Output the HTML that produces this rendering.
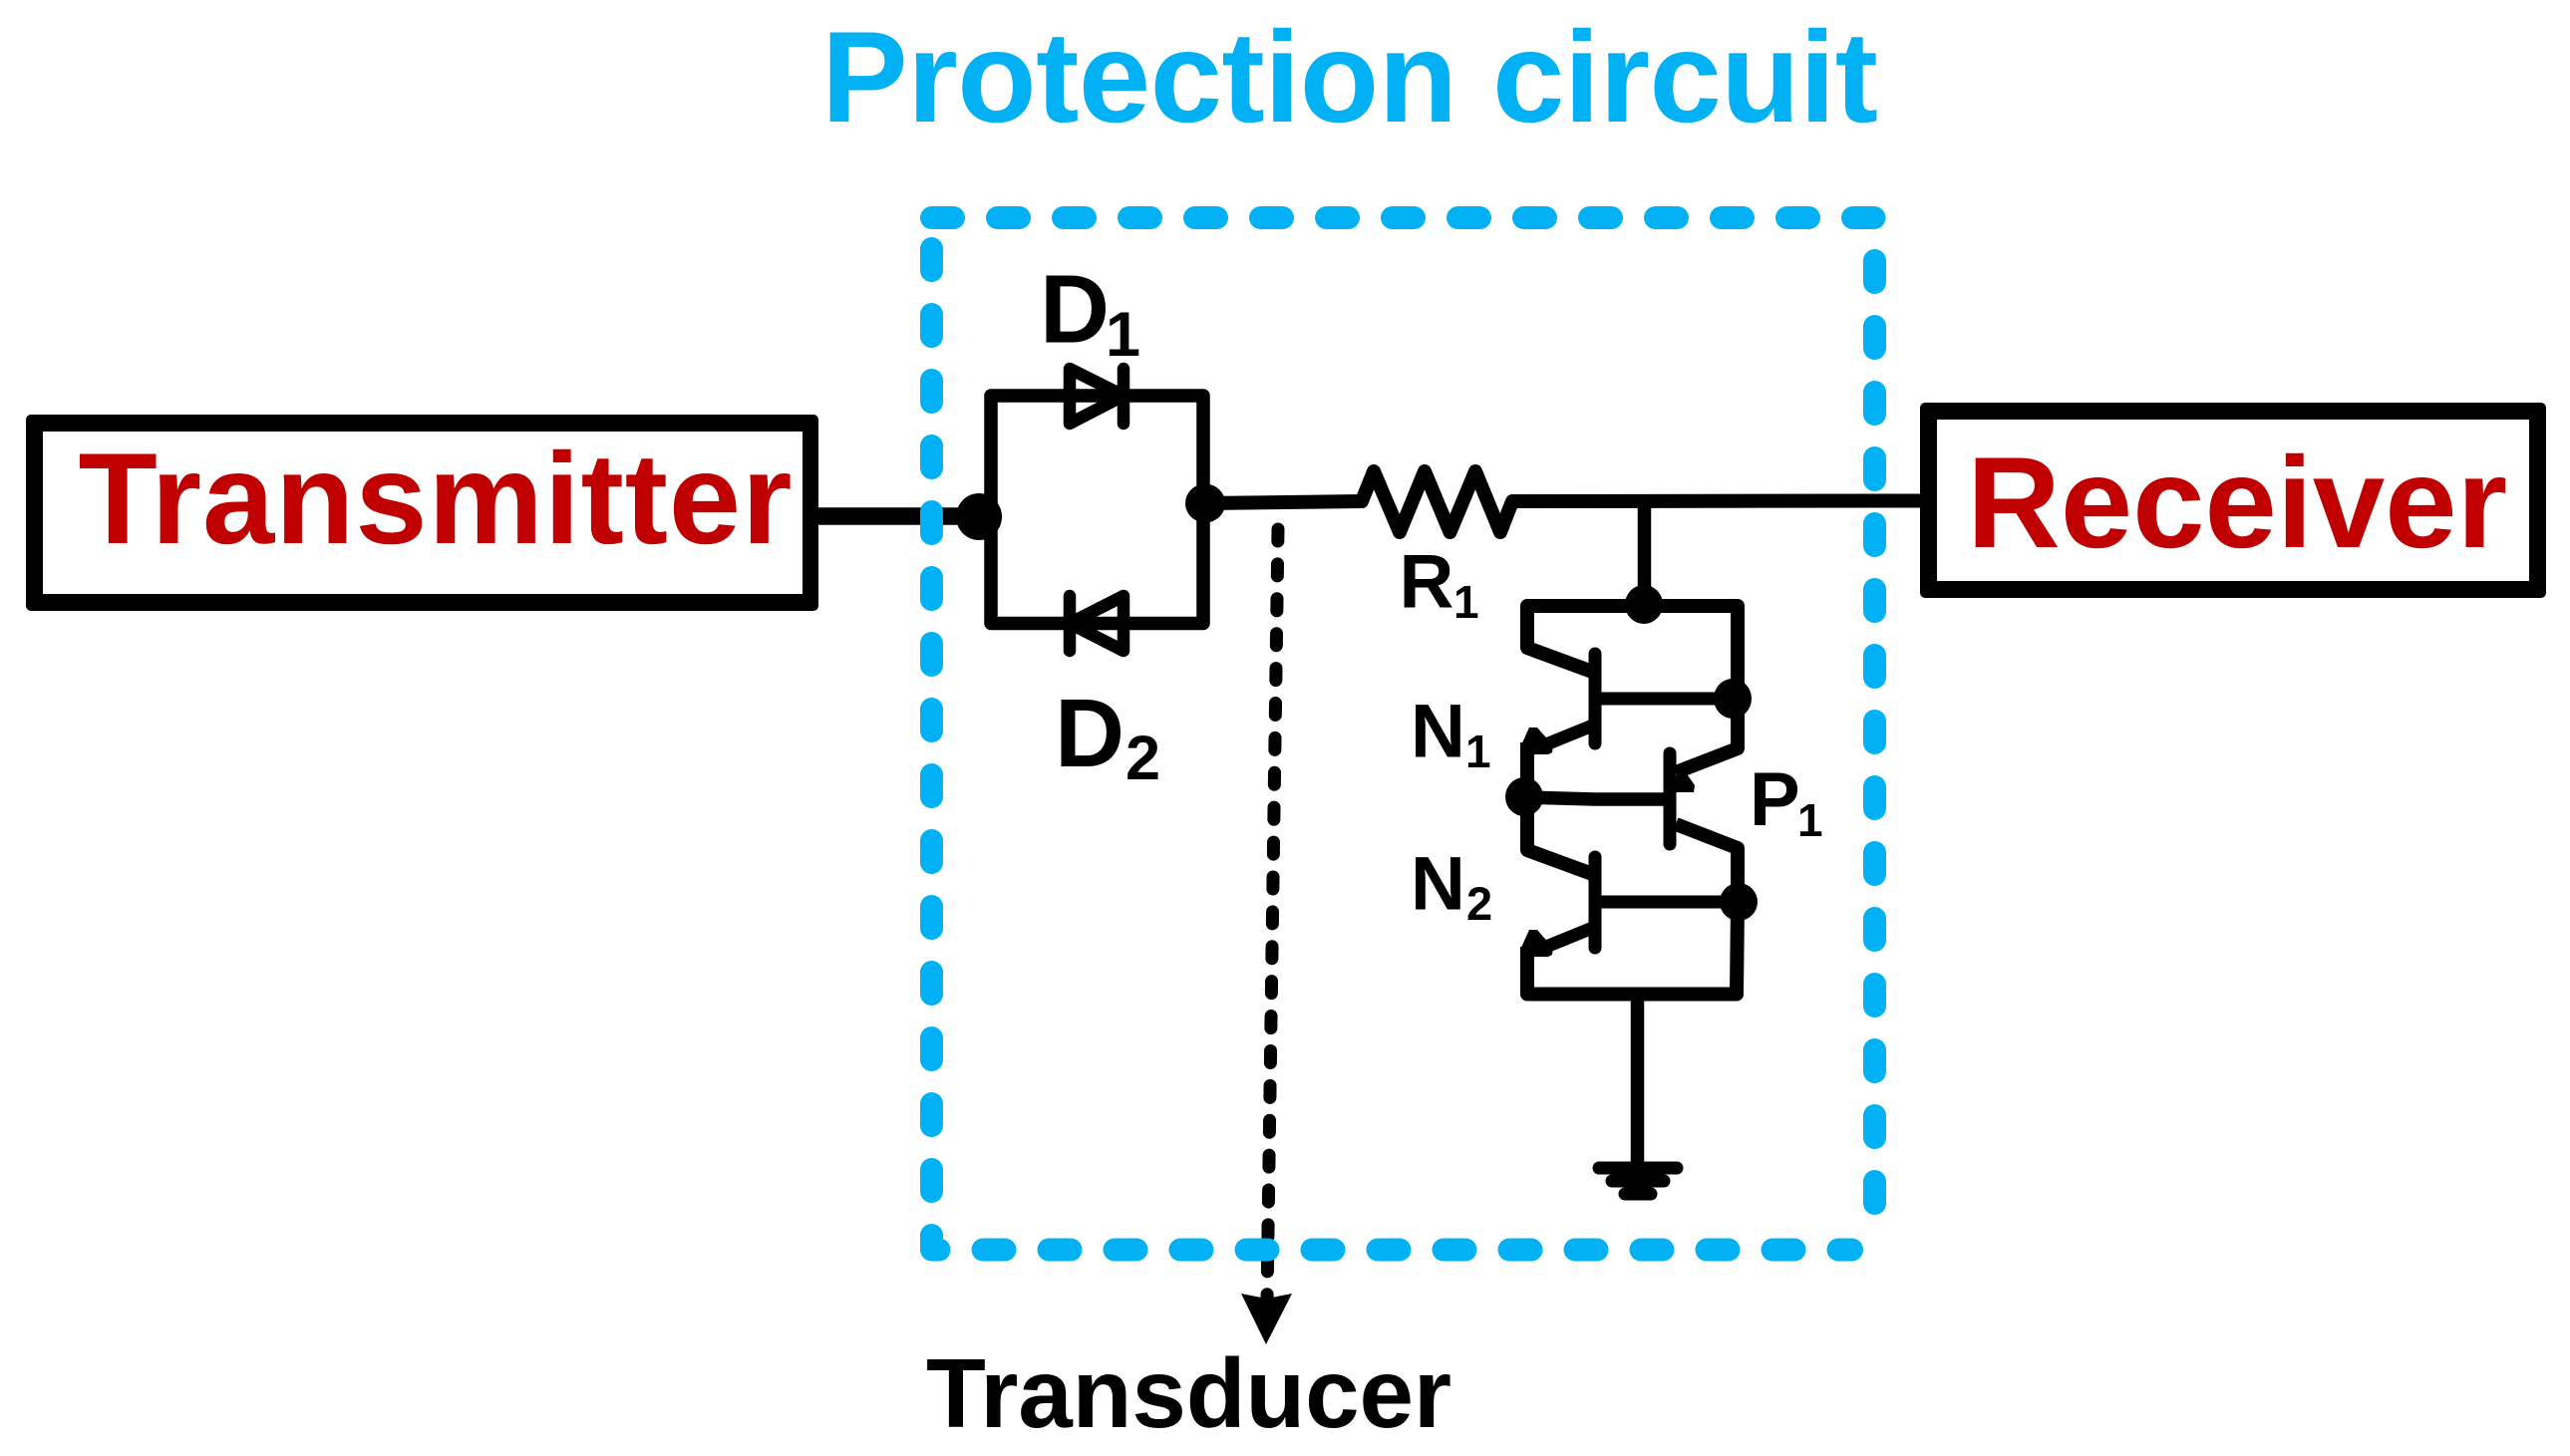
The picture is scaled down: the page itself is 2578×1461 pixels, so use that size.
<!DOCTYPE html>
<html>
<head>
<meta charset="utf-8">
<style>
html,body{margin:0;padding:0;background:#fff;width:2578px;height:1461px;overflow:hidden}
svg{display:block}
text{font-family:"Liberation Sans",Arial,sans-serif;font-weight:bold}
</style>
</head>
<body>
<svg width="2578" height="1461" viewBox="0 0 2578 1461" xmlns="http://www.w3.org/2000/svg">
<rect width="2578" height="1461" fill="#fff"/>

<!-- Title -->
<text x="824" y="122" font-size="130" fill="#02b1f3" textLength="1060" lengthAdjust="spacing">Protection circuit</text>

<!-- Transmitter box -->
<rect x="26" y="416" width="795" height="197" rx="5" fill="#000"/>
<rect x="43" y="433" width="762" height="163" fill="#fff"/>
<text x="78.5" y="545" font-size="130" fill="#c00000" textLength="716" lengthAdjust="spacing">Transmitter</text>

<!-- Receiver box -->
<rect x="1926" y="404" width="628" height="196" rx="5" fill="#000"/>
<rect x="1943" y="421" width="594" height="162" fill="#fff"/>
<text x="1973" y="549" font-size="130" fill="#c00000">Receiver</text>

<!-- Wires -->
<g fill="none" stroke="#000" stroke-linejoin="round" stroke-linecap="butt">
  <line x1="821" y1="518" x2="982" y2="518" stroke-width="17.5"/>
  <!-- diode loop -->
  <path d="M994 518 V397 H1207 V625.5 H994 Z" stroke-width="13.5"/>
  <!-- main line + resistor -->
  <path d="M1209 505 L1366 503 L1378 473 L1404 534 L1429 473 L1454.5 534 L1480 473 L1505 534 L1517 503 L1926 502.5" stroke-width="14"/>
  <line x1="1649.5" y1="503" x2="1649.5" y2="606" stroke-width="13.5"/>
  <!-- upper rail, N1 collector, P1 emitter -->
  <path d="M1600 675 L1532 650 V608 H1743 V751 L1681 775" stroke-width="14"/>
  <!-- N1 base -->
  <line x1="1600" y1="701" x2="1738" y2="701" stroke-width="13"/>
  <!-- N1 emitter -->
  <path d="M1600 727 L1546 749" stroke-width="13"/>
  <!-- left vertical -->
  <path d="M1532 745 V853 L1600 878" stroke-width="14"/>
  <!-- mid line -->
  <path d="M1529 800 L1600 802 L1675 802" stroke-width="13.5"/>
  <!-- P1 collector / right column -->
  <path d="M1681 827 L1743 851 V905 L1742 997.5 H1532 V950" stroke-width="14"/>
  <!-- N2 base -->
  <line x1="1600" y1="905" x2="1744" y2="905" stroke-width="13"/>
  <!-- N2 emitter -->
  <path d="M1600 930 L1546 952" stroke-width="13"/>
  <!-- ground stem -->
  <line x1="1642.5" y1="997" x2="1642.5" y2="1172" stroke-width="13.5"/>
</g>

<!-- Transistor bars, ground, diodes -->
<g fill="none" stroke="#000" stroke-linecap="round" stroke-linejoin="round">
  <line x1="1600" y1="656" x2="1600" y2="746" stroke-width="13"/>
  <line x1="1675" y1="756" x2="1675" y2="847" stroke-width="13"/>
  <line x1="1600" y1="860" x2="1600" y2="951" stroke-width="13"/>
  <line x1="1604" y1="1172" x2="1682" y2="1172" stroke-width="13"/>
  <line x1="1617" y1="1185" x2="1669" y2="1185" stroke-width="13"/>
  <line x1="1630" y1="1198" x2="1656" y2="1198" stroke-width="13"/>
  <!-- D1 -->
  <path d="M1073 370 V425 L1127 397 Z" stroke-width="12.5"/>
  <line x1="1127" y1="370" x2="1127" y2="425" stroke-width="12.5"/>
  <!-- D2 -->
  <path d="M1127 598 V653 L1073 625.5 Z" stroke-width="12.5"/>
  <line x1="1073" y1="598" x2="1073" y2="653" stroke-width="12.5"/>
</g>

<!-- Emitter arrow blobs -->
<g fill="#000">
  <polygon points="1525,750 1534,730 1542,730 1549,738 1558,747 1557,755 1553,757 1538,757 1525,757"/>
  <polygon points="1525,953 1534,933 1542,933 1549,941 1558,950 1557,958 1553,960 1538,960 1525,960"/>
  <polygon points="1681,778 1693,778 1700,788 1699,795 1681,795"/>
</g>

<!-- Dashed black line and arrow -->
<line x1="1282" y1="531" x2="1271" y2="1305" stroke="#000" stroke-width="13" stroke-linecap="round" stroke-dasharray="12 22.9"/>
<polygon points="1245,1298 1270.5,1303 1296,1298 1270,1349" fill="#000"/>

<!-- Nodes -->
<g fill="#000">
  <ellipse cx="982" cy="518.5" rx="23" ry="23.5"/>
  <ellipse cx="1209" cy="505" rx="20" ry="19.5"/>
  <ellipse cx="1649" cy="606.5" rx="19" ry="19.5"/>
  <ellipse cx="1738" cy="701" rx="19" ry="20"/>
  <ellipse cx="1529" cy="799.5" rx="19" ry="19.5"/>
  <ellipse cx="1744" cy="905" rx="19" ry="19"/>
</g>

<!-- Blue dashed boundary -->
<g fill="none" stroke="#02b1f3" stroke-width="23" stroke-linecap="round" stroke-linejoin="round" stroke-dasharray="22 44">
  <line x1="934.5" y1="218.5" x2="1880" y2="218.5"/>
  <path d="M934.5 249.5 V1254 H1857.5"/>
  <line x1="1880.5" y1="261.5" x2="1880.5" y2="1208"/>
</g>

<!-- Labels -->
<g fill="#000">
  <text x="1043" y="343.5" font-size="97">D</text>
  <text x="1109" y="357" font-size="63">1</text>
  <text x="1058" y="769" font-size="97">D</text>
  <text x="1129" y="782" font-size="63">2</text>
  <text x="1403.5" y="609.5" font-size="76">R</text>
  <text x="1458" y="620" font-size="46">1</text>
  <text x="1415" y="759.5" font-size="76">N</text>
  <text x="1470" y="770" font-size="46">1</text>
  <text x="1415" y="912.5" font-size="76">N</text>
  <text x="1471" y="923" font-size="47">2</text>
  <text x="1755" y="828" font-size="76">P</text>
  <text x="1803" y="839" font-size="46">1</text>
  <text x="929" y="1432" font-size="98" textLength="527" lengthAdjust="spacing">Transducer</text>
</g>
</svg>
</body>
</html>
